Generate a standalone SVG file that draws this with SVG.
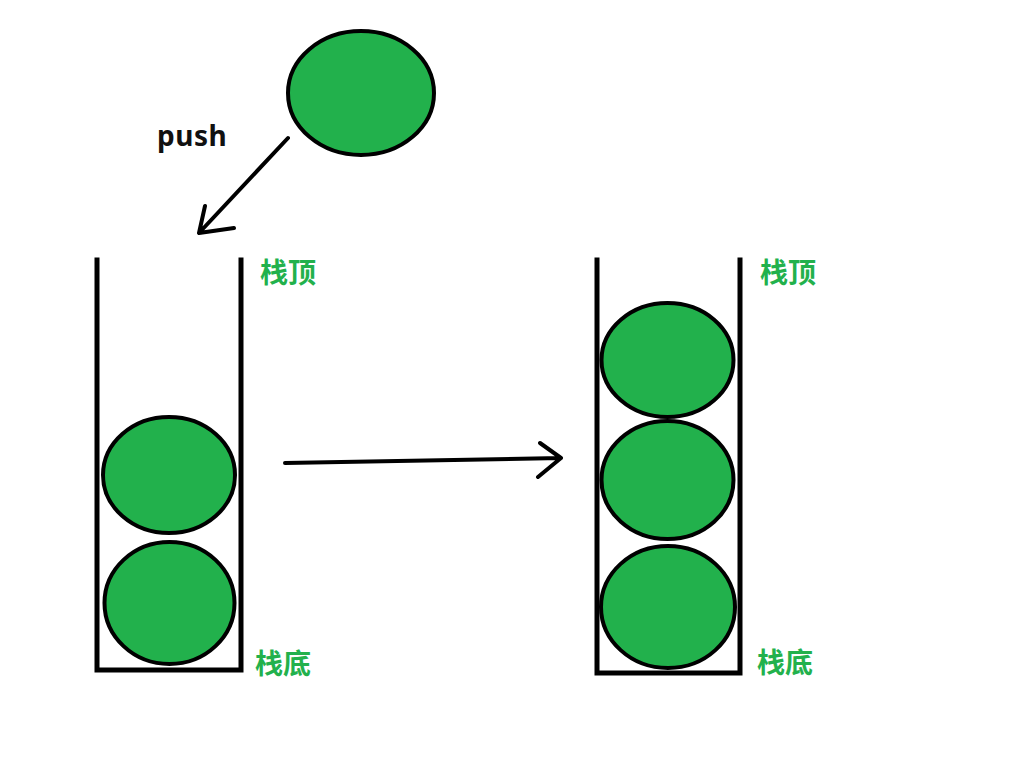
<svg xmlns="http://www.w3.org/2000/svg" width="1021" height="763" viewBox="0 0 1021 763">
<style>
.ball{fill:#22b14c;stroke:#000;stroke-width:4}
.wall{fill:none;stroke:#000;stroke-width:5;stroke-linecap:square}
.line{fill:none;stroke:#000;stroke-width:4;stroke-linecap:round;stroke-linejoin:round}
.lbl{font-family:"Noto Sans CJK SC","Noto Sans",sans-serif;font-size:28px;font-weight:bold;fill:#22b14c}
.push{font-family:"Noto Sans","Liberation Sans",sans-serif;font-size:28px;font-weight:bold;fill:#111;letter-spacing:0.5px}
</style>
<rect width="1021" height="763" fill="#fff"/>
<g id="new-ball"><ellipse class="ball" cx="361" cy="93" rx="73" ry="62"/></g>
<g id="left-stack">
<path class="wall" d="M97,260 V670 H241 V260"/>
<ellipse class="ball" cx="169" cy="475" rx="66" ry="58"/>
<ellipse class="ball" cx="169.5" cy="603" rx="65" ry="61"/>
<text class="lbl" x="260" y="283">栈顶</text>
<text class="lbl" x="255" y="674">栈底</text>
</g>
<g id="right-stack">
<path class="wall" d="M597,260 V673 H740 V260"/>
<ellipse class="ball" cx="667.5" cy="360" rx="66" ry="57"/>
<ellipse class="ball" cx="667.5" cy="480" rx="66" ry="59"/>
<ellipse class="ball" cx="668" cy="607" rx="67" ry="61"/>
<text class="lbl" x="760" y="283">栈顶</text>
<text class="lbl" x="757" y="673">栈底</text>
</g>
<g id="connectors">
<path class="line" d="M288,138 L199,233 M205,206 L199,233 L234,228"/>
<path class="line" d="M285,463 L561,458 M540,443 L561,458 L538,477"/>
</g>
<text class="push" x="157" y="146">push</text>
</svg>
